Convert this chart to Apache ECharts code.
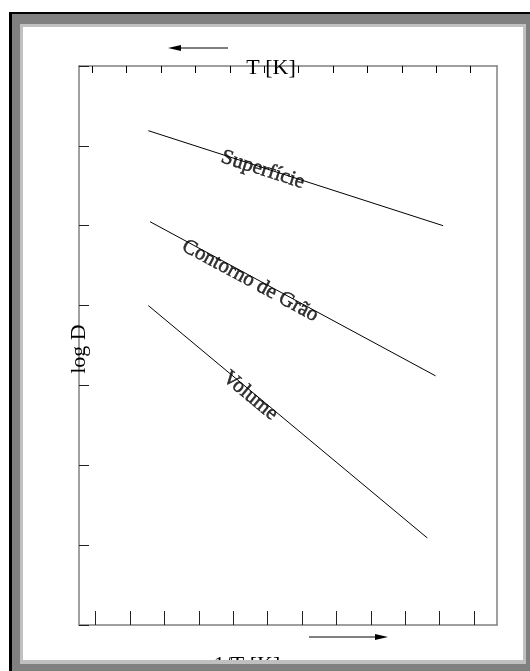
<!DOCTYPE html>
<html>
<head>
<meta charset="utf-8">
<script src="https://cdn.jsdelivr.net/npm/echarts@6/dist/echarts.min.js"></script>
<style>
  html, body { margin: 0; padding: 0; background: #fff; }
  #chart { width: 530px; height: 671px; }
</style>
</head>
<body>
<div id="chart"></div>
<script>
// Diffusion coefficient vs. inverse temperature: three straight Arrhenius lines
const lineNames = ['Superfície', 'Contorno de Grão', 'Volume'];
const surfaceX = [1.53, 10.10];
const surfaceY = [6.19, 5.00];
const boundaryX = [1.58, 9.88];
const boundaryY = [5.05, 3.12];
const volumeX = [1.53, 9.64];
const volumeY = [4.00, 1.09];

// where each line's name sits (data units)
const labelX = [4.86, 4.49, 4.49];
const labelY = [5.70, 4.31, 2.87];

// unlabelled tick marks
const bottomTicks = [0, 1, 2, 3, 4, 5, 6, 7, 8, 9, 10, 11];
const topTicks = [-0.1, 0.9, 1.9, 2.9, 3.9, 4.9, 5.9, 6.9, 7.9, 8.9, 9.9, 10.9];
const xMin = -0.485, xMax = 11.666;
const yMin = 0, yMax = 7, yStep = 1;

const xTitle = '1/T [K]';
const topTitle = 'T [K]';
const yTitle = 'log D';

const serif = '"Liberation Serif", "DejaVu Serif", serif';
const axisGrey = '#808080';

const lines = [
  { x: surfaceX, y: surfaceY },
  { x: boundaryX, y: boundaryY },
  { x: volumeX, y: volumeY }
];

const chart = echarts.init(document.getElementById('chart'), null, { renderer: 'canvas' });

function pairs(xs, ys) { return xs.map((v, i) => [v, ys[i]]); }

function frameRects() {
  const r = (x, y, w, h, c) => ({ type: 'rect', z: 100, silent: true,
    shape: { x, y, width: w, height: h }, style: { fill: c } });
  return [
    r(9, 12, 521, 2, '#000'),
    r(9, 12, 3, 659, '#000'),
    r(12, 14, 518, 10, '#808080'),
    r(12, 14, 8, 657, '#808080'),
    r(526, 14, 4, 657, '#808080'),
    r(12, 664, 518, 7, '#808080'),
    r(20, 24, 503, 3, '#c0c0c0'),
    r(20, 24, 3, 636, '#c0c0c0'),
    r(523, 24, 3, 640, '#c0c0c0'),
    r(20, 660, 506, 4, '#c0c0c0')
  ];
}

function arrows() {
  return [
    { type: 'line', z: 50, shape: { x1: 177, y1: 48, x2: 228, y2: 48 }, style: { stroke: '#000', lineWidth: 1 } },
    { type: 'polygon', z: 50, shape: { points: [[168, 48], [181, 45], [181, 51]] }, style: { fill: '#000' } },
    { type: 'line', z: 50, shape: { x1: 309, y1: 637, x2: 378, y2: 637 }, style: { stroke: '#000', lineWidth: 1 } },
    { type: 'polygon', z: 50, shape: { points: [[388, 637], [375, 634], [375, 640]] }, style: { fill: '#000' } }
  ];
}

function titles() {
  const t = (text, x, y, rot) => ({ type: 'text', z: 60, x, y, rotation: rot || 0,
    style: { text, font: '22px ' + serif, fill: '#000', align: 'center', verticalAlign: 'middle' } });
  return [
    t(topTitle, 271, 68),
    t(xTitle, 247, 665),
    t(yTitle, 79, 349, Math.PI / 2)
  ];
}

const baseOption = {
  animation: false,
  backgroundColor: '#fff',
  grid: { left: 79, top: 66, width: 418, height: 559, show: false },
  xAxis: [
    {
      type: 'value', position: 'bottom', min: xMin, max: xMax,
      axisLine: { show: true, lineStyle: { color: axisGrey, width: 1.5 } },
      axisTick: { show: true, inside: true, length: 14, customValues: bottomTicks, lineStyle: { color: '#222', width: 1 } },
      axisLabel: { show: false }, splitLine: { show: false }
    },
    {
      type: 'value', position: 'top', min: xMin, max: xMax,
      axisLine: { show: true, onZero: false, lineStyle: { color: axisGrey, width: 1.5 } },
      axisTick: { show: true, inside: true, length: 7, customValues: topTicks, lineStyle: { color: '#000', width: 1 } },
      axisLabel: { show: false }, splitLine: { show: false }
    }
  ],
  yAxis: [
    {
      type: 'value', position: 'left', min: yMin, max: yMax, interval: yStep,
      axisLine: { show: true, onZero: false, lineStyle: { color: axisGrey, width: 1.5 } },
      axisTick: { show: true, inside: true, length: 10, lineStyle: { color: '#222', width: 1 } },
      axisLabel: { show: false }, splitLine: { show: false }
    },
    {
      type: 'value', position: 'right', min: yMin, max: yMax,
      axisLine: { show: true, onZero: false, lineStyle: { color: axisGrey, width: 1.5 } },
      axisTick: { show: false }, axisLabel: { show: false }, splitLine: { show: false }
    }
  ],
  series: lines.map((l, i) => ({
    name: lineNames[i], type: 'line', xAxisIndex: 0, yAxisIndex: 0,
    data: pairs(l.x, l.y), showSymbol: false, symbol: 'none',
    lineStyle: { color: '#000', width: 1 }
  })),
  graphic: [...arrows(), ...titles(), ...frameRects()]
};

chart.setOption(baseOption);

// names follow the slope of their line on screen
const labelData = lines.map((l, i) => {
  const p0 = chart.convertToPixel({ gridIndex: 0 }, [l.x[0], l.y[0]]);
  const p1 = chart.convertToPixel({ gridIndex: 0 }, [l.x[1], l.y[1]]);
  const deg = -Math.atan2(p1[1] - p0[1], p1[0] - p0[0]) * 180 / Math.PI;
  return { name: lineNames[i], value: [labelX[i], labelY[i]], label: { rotate: deg } };
});

chart.setOption({
  series: [...baseOption.series, {
    name: 'names', type: 'scatter', xAxisIndex: 0, yAxisIndex: 0,
    symbolSize: 0, data: labelData, z: 5,
    itemStyle: { color: '#000' },
    label: { show: true, position: 'inside', formatter: '{b}', color: '#000',
      textBorderWidth: 0.5, textBorderColor: '#000',
      fontFamily: serif, fontSize: 21 }
  }]
});
</script>
</body>
</html>
